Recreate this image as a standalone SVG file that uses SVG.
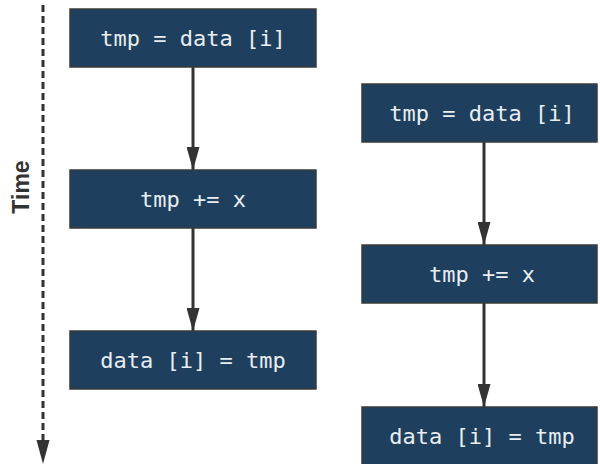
<svg xmlns="http://www.w3.org/2000/svg" width="600" height="464" viewBox="0 0 600 464">
<style>
.box{fill:#1f3f5e;stroke:#3a3a3a;stroke-width:1.5}
.lbl{font-family:"DejaVu Sans Mono","Liberation Mono",monospace;font-size:22px;fill:#e8eef2;text-anchor:middle;dominant-baseline:central}
.conn{stroke:#333;stroke-width:3;fill:none}
.time{font-family:"Liberation Sans",Arial,sans-serif;font-weight:bold;font-size:23px;fill:#333;text-anchor:middle;dominant-baseline:central}
</style>
<defs>
<marker id="ah" markerWidth="23" markerHeight="13" refX="23" refY="6.5" orient="auto" markerUnits="userSpaceOnUse" viewBox="0 0 23 13">
<path d="M0,0 L23,6.5 L0,13 z" fill="#333"/>
</marker>
</defs>
<rect width="600" height="464" fill="#fff"/>
<g id="time-axis">
<line x1="43" y1="5" x2="43" y2="442" stroke="#333" stroke-width="3" stroke-dasharray="7,4"/>
<path d="M36.5,440 L49.5,440 L43,464 z" fill="#333"/>
<text class="time" transform="translate(21,187) rotate(-90)">Time</text>
</g>
<g id="connectors">
<line class="conn" x1="193" y1="67" x2="193" y2="170" marker-end="url(#ah)"/>
<line class="conn" x1="193" y1="228" x2="193" y2="331" marker-end="url(#ah)"/>
<line class="conn" x1="484" y1="142" x2="484" y2="245" marker-end="url(#ah)"/>
<line class="conn" x1="484" y1="303" x2="484" y2="407" marker-end="url(#ah)"/>
</g>
<g id="l1"><rect class="box" x="70" y="9" width="246" height="58"/><text class="lbl" x="193" y="38">tmp = data [i]</text></g>
<g id="l2"><rect class="box" x="70" y="170" width="246" height="58"/><text class="lbl" x="193" y="199">tmp += x</text></g>
<g id="l3"><rect class="box" x="70" y="331" width="246" height="58"/><text class="lbl" x="193" y="360">data [i] = tmp</text></g>
<g id="r1"><rect class="box" x="362" y="84" width="235" height="58"/><text class="lbl" x="482" y="113">tmp = data [i]</text></g>
<g id="r2"><rect class="box" x="362" y="245" width="235" height="58"/><text class="lbl" x="482" y="274">tmp += x</text></g>
<g id="r3"><rect class="box" x="362" y="407" width="235" height="58"/><text class="lbl" x="482" y="436">data [i] = tmp</text></g>
</svg>
